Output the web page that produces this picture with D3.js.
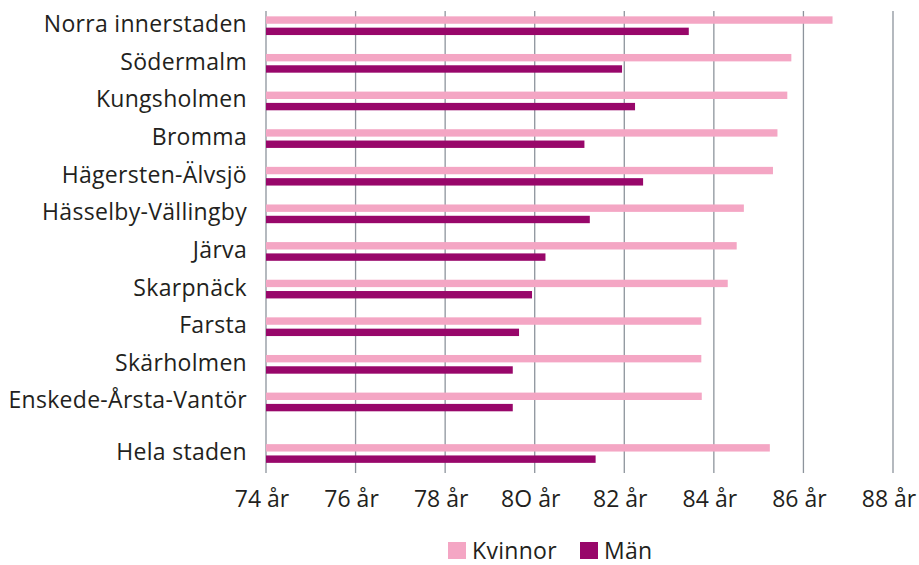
<!DOCTYPE html>
<html>
<head>
<meta charset="utf-8">
<script src="https://cdn.jsdelivr.net/npm/d3@7"></script>
<style>
  body { margin: 0; background: #fff; }
  svg text { font-family: "Open Sans", "Lato", sans-serif; fill: #231f20; }
</style>
</head>
<body>
<div id="chart"></div>
<script>
// Categories (top to bottom), the last one is the city total
var districts = ["Norra innerstaden", "Södermalm", "Kungsholmen", "Bromma", "Hägersten-Älvsjö",
    "Hässelby-Vällingby", "Järva", "Skarpnäck", "Farsta", "Skärholmen", "Enskede-Årsta-Vantör"];
var totalLabel = "Hela staden";

// Life expectancy (years)
var kvinnor = [86.65, 85.73, 85.64, 85.42, 85.32, 84.67, 84.51, 84.31, 83.72, 83.72, 83.73, 85.25];
var man     = [83.44, 81.95, 82.24, 81.11, 82.42, 81.23, 80.24, 79.94, 79.65, 79.51, 79.51, 81.36];

var tickValues = [74, 76, 78, 80, 82, 84, 86, 88];
var seriesNames = ["Kvinnor", "Män"];
var colors = ["#f4a6c4", "#98076a"];

var width = 919, height = 565;
var categories = districts.concat([totalLabel]);

var svg = d3.select("#chart").append("svg")
    .attr("width", width)
    .attr("height", height);

// x scale
var x = d3.scaleLinear().domain([74, 88]).range([266, 893]);

// the total row sits a bit further down than the regular spacing
var totalGap = 0.37;
function rowPos(i) { return i + (i >= districts.length ? totalGap : 0); }
var y = d3.scaleLinear().domain([0, districts.length + totalGap]).range([25.7, 453.5]);

var barH = 7.4, barOff = 5.65;

// gridlines
svg.append("g").selectAll("line")
    .data(tickValues)
    .enter()
    .append("line")
    .attr("x1", function (d) { return x(d); })
    .attr("x2", function (d) { return x(d); })
    .attr("y1", 11)
    .attr("y2", 473)
    .attr("stroke", "#8d949c")
    .attr("stroke-width", 1.3);

// tick labels (sit slightly left of their gridline, as in the original)
svg.append("g").selectAll("text")
    .data(tickValues)
    .enter()
    .append("text")
    .attr("x", function (d) { return x(d) - 4; })
    .attr("y", 507)
    .attr("text-anchor", "middle")
    .style("font-size", "23px")
    .text(function (d) { return String(d).replace("0", "O") + " år"; });

// category labels
svg.append("g").selectAll("text")
    .data(categories)
    .enter()
    .append("text")
    .attr("x", 247)
    .attr("y", function (d, i) { return y(rowPos(i)) + 6.5; })
    .attr("text-anchor", "end")
    .style("font-size", "23px")
    .style("letter-spacing", "0.3px")
    .text(function (d) { return d; });

// bars
var series = [kvinnor, man];
series.forEach(function (vals, s) {
    svg.append("g").selectAll("rect")
        .data(vals)
        .enter()
        .append("rect")
        .attr("x", x(74))
        .attr("y", function (d, i) { return y(rowPos(i)) + (s === 0 ? -barOff : barOff) - barH / 2; })
        .attr("width", function (d) { return x(d) - x(74); })
        .attr("height", barH)
        .attr("fill", colors[s]);
});

// legend
var legendX = [448, 580];
var legend = svg.append("g").selectAll("g")
    .data(seriesNames)
    .enter()
    .append("g")
    .attr("transform", function (d, i) { return "translate(" + legendX[i] + ",542)"; });
legend.append("rect")
    .attr("width", 18)
    .attr("height", 17)
    .attr("fill", function (d, i) { return colors[i]; });
legend.append("text")
    .attr("x", 24)
    .attr("y", 17)
    .style("font-size", "23px")
    .style("letter-spacing", "0.3px")
    .text(function (d) { return d; });
</script>
</body>
</html>
